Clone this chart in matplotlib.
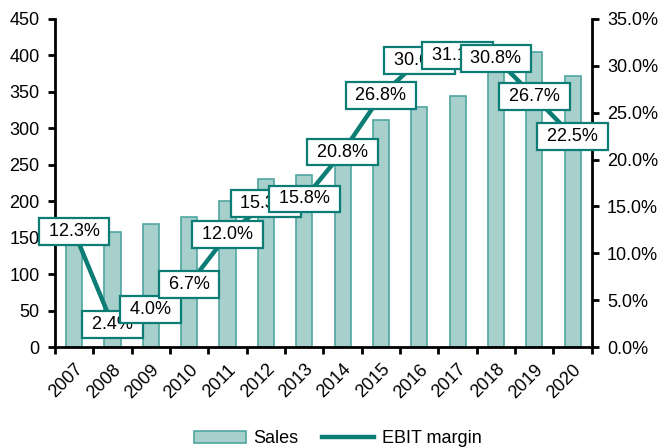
import matplotlib
matplotlib.use("Agg")
import matplotlib.pyplot as plt
from matplotlib.ticker import FuncFormatter, MultipleLocator, FixedLocator

plt.rcParams['font.family'] = ['Liberation Sans', 'DejaVu Sans']

years = ['2007', '2008', '2009', '2010', '2011', '2012', '2013',
         '2014', '2015', '2016', '2017', '2018', '2019', '2020']
sales = [145, 158, 169, 178, 201, 230, 236, 262, 311, 329, 345, 385, 405, 372]
ebit_margin = [12.3, 2.4, 4.0, 6.7, 12.0, 15.3, 15.8, 20.8, 26.8, 30.6, 31.1, 30.8, 26.7, 22.5]

teal = '#0B7D75'
bar_fill = '#A7CFCC'
bar_edge = '#4FA6A0'
fs = 13

fig = plt.figure(figsize=(6.62, 4.48), dpi=100)
ax = fig.add_axes([0.083, 0.2254, 0.811, 0.7322])
x = list(range(len(years)))
ax.bar(x, sales, width=0.42, color=bar_fill, edgecolor=bar_edge, linewidth=1.2, label='Sales')
ax.set_ylim(0, 450)
ax.set_xlim(-0.5, len(years) - 0.5)
ax.yaxis.set_major_locator(MultipleLocator(50))
ax.xaxis.set_major_locator(FixedLocator([i - 0.5 for i in range(len(years) + 1)]))
ax.xaxis.set_minor_locator(FixedLocator(x))
ax.set_xticklabels([])
ax.set_xticklabels(years, minor=True, rotation=45, ha='right', rotation_mode='anchor')
ax.tick_params(axis='x', which='minor', length=0, pad=10, labelsize=fs)
ax.tick_params(axis='x', which='major', length=5, width=2, direction='out')
ax.tick_params(axis='y', length=5, width=2, labelsize=fs, pad=6)
for s in ['top', 'right']:
    ax.spines[s].set_visible(False)
for s in ['left', 'bottom']:
    ax.spines[s].set_linewidth(2)

ax2 = ax.twinx()
ax2.plot(x, [v / 100 for v in ebit_margin], color=teal, linewidth=3.2, label='EBIT margin')
ax2.set_ylim(0, 0.35)
ax2.yaxis.set_major_locator(MultipleLocator(0.05))
ax2.yaxis.set_major_formatter(FuncFormatter(lambda v, p: f"{v*100:.1f}%"))
ax2.tick_params(axis='y', length=5, width=2, labelsize=fs, pad=6)
for s in ['top', 'left', 'bottom']:
    ax2.spines[s].set_visible(False)
ax2.spines['right'].set_linewidth(2)

for xi, v in zip(x, ebit_margin):
    ax2.text(xi, v / 100, f" {v:.1f}% ", ha='center', va='center', fontsize=fs,
             bbox=dict(boxstyle='square,pad=0.27', facecolor='white', edgecolor=teal, linewidth=1.6),
             zorder=5)

h1, l1 = ax.get_legend_handles_labels()
h2, l2 = ax2.get_legend_handles_labels()
fig.legend(h1 + h2, l1 + l2, loc='lower center', bbox_to_anchor=(0.51, -0.035), ncol=2,
           frameon=False, fontsize=fs, handlelength=2.9, columnspacing=1.3, handletextpad=0.4)

fig.savefig('out.png', dpi=100)
